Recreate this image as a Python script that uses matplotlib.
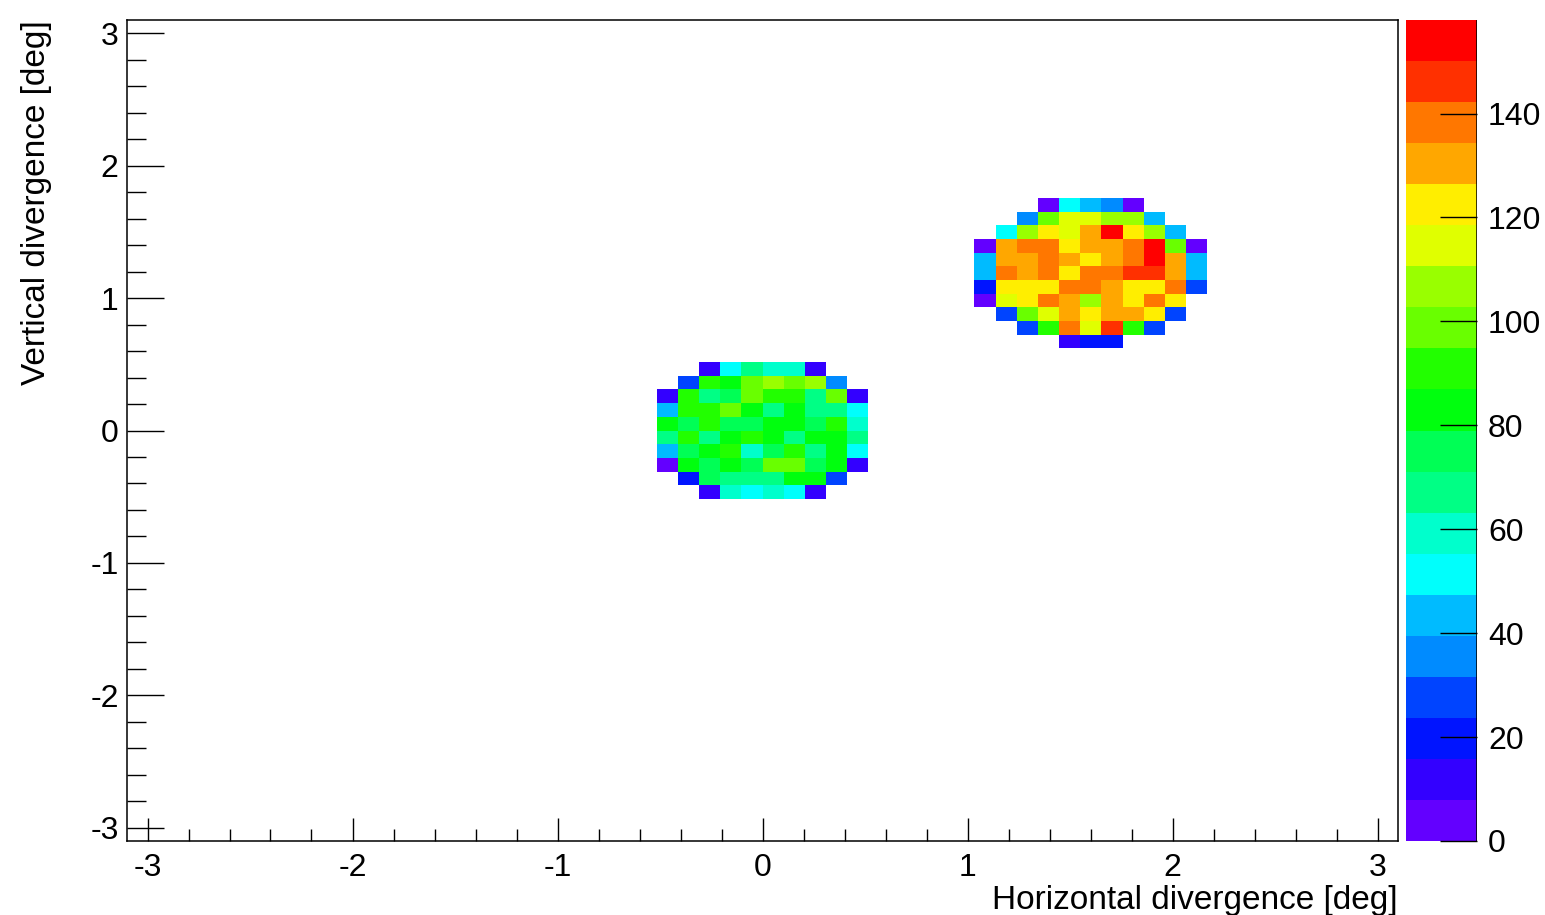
import colorsys
import numpy as np
import matplotlib
matplotlib.use("Agg")
import matplotlib.pyplot as plt
from matplotlib.colors import ListedColormap, BoundaryNorm
from matplotlib.ticker import MultipleLocator

plt.rcParams['font.family'] = ['Liberation Sans', 'DejaVu Sans']
plt.rcParams['axes.unicode_minus'] = False

# binning of the divergence histogram
n_bins = 60
x_lo, x_hi = -3.1, 3.1
z_max = 158
n_contours = 20

# beam spot around (0, 0): first column bin, top row bin, counts row by row (top -> bottom)
spot1_ix = 25
spot1_iy = 34
spot1 = [
    [0, 0, 12, 51, 67, 59, 59, 12, 0, 0],
    [0, 28, 91, 83, 99, 107, 99, 107, 36, 0],
    [12, 91, 67, 75, 99, 91, 91, 69, 99, 12],
    [44, 91, 91, 100, 83, 67, 83, 67, 67, 51],
    [83, 75, 91, 73, 75, 83, 83, 75, 91, 59],
    [67, 91, 67, 83, 91, 83, 67, 83, 83, 67],
    [44, 75, 83, 91, 59, 75, 91, 67, 83, 51],
    [4, 86, 75, 83, 75, 99, 99, 75, 83, 12],
    [0, 20, 75, 67, 67, 67, 83, 83, 28, 0],
    [0, 0, 12, 59, 51, 59, 51, 12, 0, 0],
]

# deflected spot around (1.6, 1.2)
spot2_ix = 40
spot2_iy = 46
spot2 = [
    [0, 0, 0, 4, 51, 44, 36, 5, 0, 0, 0],
    [0, 0, 36, 99, 115, 114, 107, 106, 44, 0, 0],
    [0, 51, 107, 122, 115, 130, 156, 123, 107, 44, 0],
    [4, 131, 138, 139, 121, 130, 131, 137, 154, 99, 5],
    [44, 130, 132, 138, 129, 123, 130, 140, 158, 131, 43],
    [45, 139, 130, 138, 122, 138, 139, 147, 146, 130, 44],
    [20, 123, 121, 124, 138, 139, 131, 122, 123, 138, 28],
    [4, 115, 123, 139, 131, 107, 130, 122, 138, 124, 0],
    [0, 28, 99, 114, 130, 122, 131, 132, 123, 28, 0],
    [0, 0, 28, 91, 138, 115, 147, 90, 28, 0, 0],
    [0, 0, 0, 0, 12, 20, 20, 0, 0, 0, 0],
]

x_label = "Horizontal divergence [deg]"
y_label = "Vertical divergence [deg]"


def fill(h, block, ix0, iy_top):
    for r, row in enumerate(block):
        for c, v in enumerate(row):
            h[iy_top - r, ix0 + c] = v


def pretty_palette(ncont):
    # rainbow palette of 50 colours, hue 280 -> 0, picked per contour
    cols = []
    for j in range(ncont):
        i = int((j + 0.99) * 50 / ncont)
        hue = 280 - (i + 1) * 280 / 50
        cols.append(colorsys.hls_to_rgb(hue / 360.0, 0.5, 1.0))
    return cols


h = np.zeros((n_bins, n_bins))
fill(h, spot1, spot1_ix, spot1_iy)
fill(h, spot2, spot2_ix, spot2_iy)
h = np.ma.masked_where(h <= 0, h)

edges = np.linspace(x_lo, x_hi, n_bins + 1)
levels = np.linspace(0, z_max, n_contours + 1)
cmap = ListedColormap(pretty_palette(n_contours))
norm = BoundaryNorm(levels, cmap.N)

W, H = 1545, 915
fig = plt.figure(figsize=(W / 100, H / 100), dpi=100)
ax = fig.add_axes([127 / W, 74 / H, 1271 / W, 821 / H])
cax = fig.add_axes([1406 / W, 74 / H, 71 / W, 821 / H])

mesh = ax.pcolormesh(edges, edges, h, cmap=cmap, norm=norm)
ax.set_xlim(x_lo, x_hi)
ax.set_ylim(x_lo, x_hi)

for axis in (ax.xaxis, ax.yaxis):
    axis.set_major_locator(MultipleLocator(1))
    axis.set_minor_locator(MultipleLocator(0.2))
ax.tick_params(which='both', direction='in', top=False, right=False, width=1.0, labelsize=23)
ax.tick_params(axis='y', which='major', length=26.6, pad=6)
ax.tick_params(axis='y', which='minor', length=13.7)
ax.tick_params(axis='x', which='major', length=16.6, pad=9)
ax.tick_params(axis='x', which='minor', length=8.6)
for s in ax.spines.values():
    s.set_linewidth(1.1)

ax.set_xlabel(x_label, fontsize=24, loc='right')
ax.xaxis.set_label_coords(1.0, -0.054)
ax.set_ylabel(y_label, fontsize=24, loc='top')
ax.yaxis.set_label_coords(-0.059, 1.0)

cb = fig.colorbar(mesh, cax=cax, ticks=np.arange(0, 141, 20), spacing='proportional')
cb.outline.set_visible(False)
cax.axvline(1.0, color='black', lw=1.1)
cax.tick_params(direction='in', length=26.6, width=1.0, labelsize=23, pad=8, right=True)
cax.minorticks_off()

fig.savefig("out.png", dpi=100)
